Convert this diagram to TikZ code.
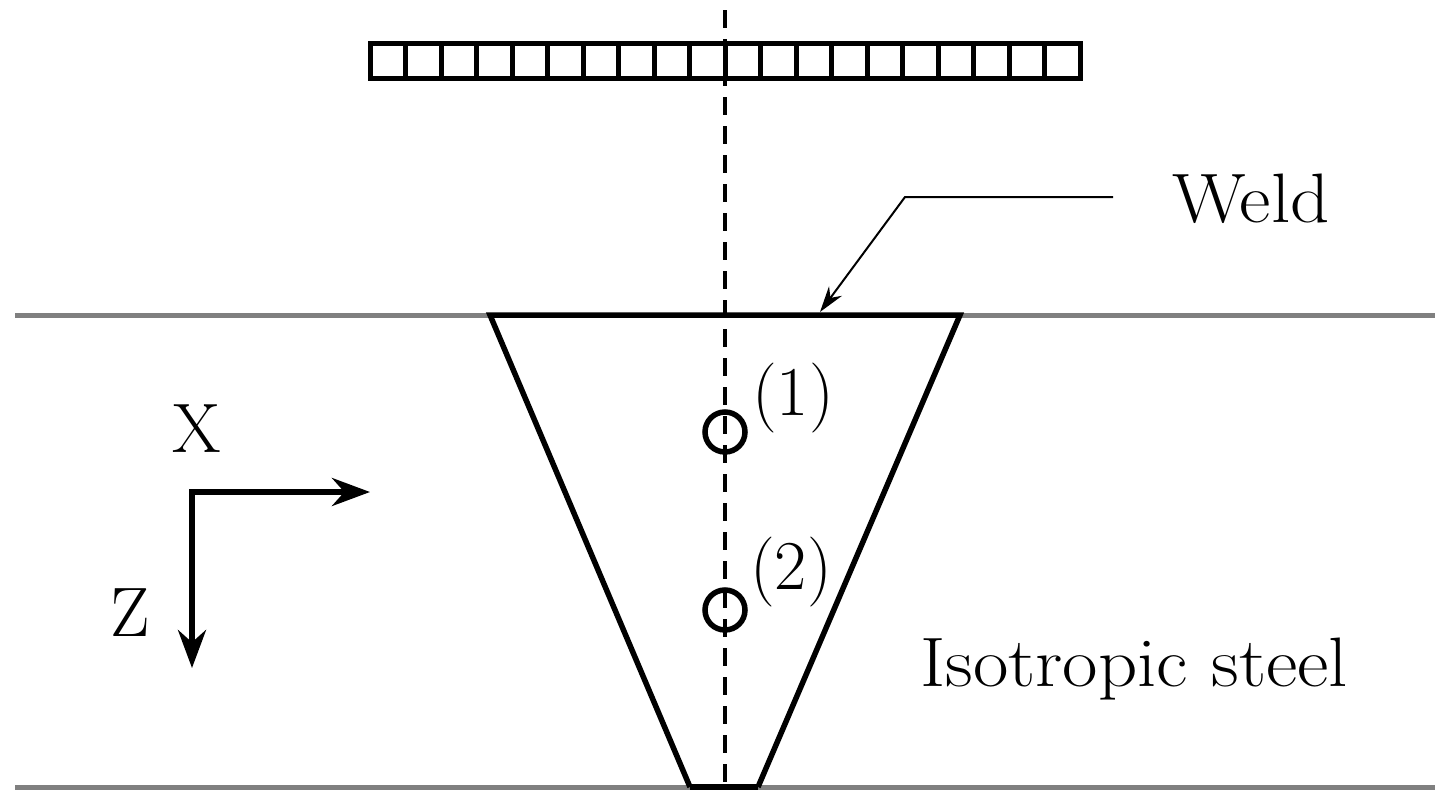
\documentclass[tikz,border=0pt]{standalone}
\usepackage{fontspec}
\usetikzlibrary{arrows.meta}
\begin{document}
\begin{tikzpicture}[x=1pt,y=-1pt,
  blk/.style={line width=5.5pt},
  gry/.style={line width=5pt,draw=gray},
  lbl/.style={font=\fontsize{70}{74}\selectfont,inner sep=0pt}]
\useasboundingbox (0,0) rectangle (1450,806);
\foreach \i in {0,...,19}{\draw[line width=5pt] (370+\i*35.5,43) rectangle (370+\i*35.5+35.5,78);}
\draw[gry] (15,315) -- (1435,315);
\draw[gry] (15,787) -- (1435,787);
\draw[line width=3.5pt,dash pattern=on 18pt off 11pt] (725,10) -- (725,787);
\draw[blk,line join=miter] (690,787) -- (490,315) -- (960,315) -- (758,787);
\draw[blk] (690,787) -- (758,787);
\draw[blk] (725,432) circle (20);
\draw[blk] (725,610) circle (20);
\node[lbl,anchor=west] (n1) at (752,398) {(1)};
\node[lbl,anchor=west] (n2) at (750,572) {(2)};
\coordinate (wa) at (1113,197);
\coordinate (wb) at (905,197);
\coordinate (wc) at (820,312);
\draw[line width=2pt,-{Stealth[length=26pt,width=16pt]}] (wa) -- (wb) -- (wc);
\node[lbl,anchor=base west,xscale=1.1] (weld) at (1172,222) {Weld};
\node[lbl,anchor=base west,xscale=1.1] (iso) at (920,686) {Isotropic steel};
\coordinate (o) at (192,492);
\coordinate (xe) at (370,492);
\coordinate (ze) at (192,668);
\draw[blk,-{Stealth[length=38pt,width=28pt]}] (o) -- (xe);
\draw[blk,-{Stealth[length=38pt,width=28pt]}] ([yshift=2.75pt]o) -- (ze);
\node[lbl,anchor=base] (xl) at (197,452) {X};
\node[lbl,anchor=base] (zl) at (130,636) {Z};
\end{tikzpicture}
\end{document}
